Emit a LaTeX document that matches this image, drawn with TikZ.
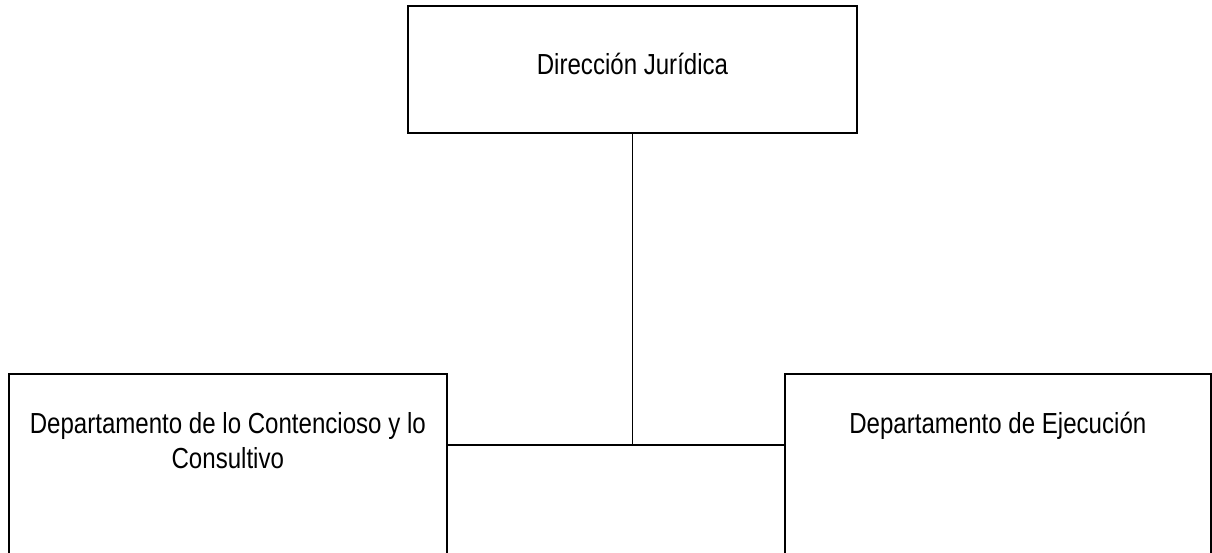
\documentclass[tikz,border=0pt]{standalone}
\usepackage{fontspec}
\setmainfont{Liberation Sans}[FakeStretch=0.83]
\usetikzlibrary{positioning}

\begin{document}
\begin{tikzpicture}[x=1pt, y=-1pt,
	unidad/.style={draw, rectangle, line width=1.6pt, inner sep=0pt},
	rotulo/.style={inner sep=0pt, align=center, font=\fontsize{29}{35}\selectfont},
	linea/.style={line width=1.6pt}]
			\useasboundingbox (0,0) rectangle (1212,552);
			\node[unidad, minimum width=449pt, minimum height=127pt] (dj) at (632.5,69.5) {};
			\node[rotulo, below=48pt of dj.north] (djtxt) {Dirección Jurídica};
			\node[unidad, minimum width=438pt, minimum height=190pt, anchor=north west] (dcc) at (8,373) {};
			\node[unidad, minimum width=426pt, minimum height=190pt, anchor=north west] (dej) at (784,373) {};
			\node[rotulo, below=39pt of dcc.north] (dcctxt) {Departamento de lo Contencioso y lo\\Consultivo};
			\node[rotulo, below=39pt of dej.north] (dejtxt) {Departamento de Ejecución};
			\coordinate (union) at (632,445);
			\draw[linea] (dj.south) -- (dj.south |- union);
			\draw[linea] (dcc.east |- union) -- (dej.west |- union);
		\end{tikzpicture}
\end{document}
